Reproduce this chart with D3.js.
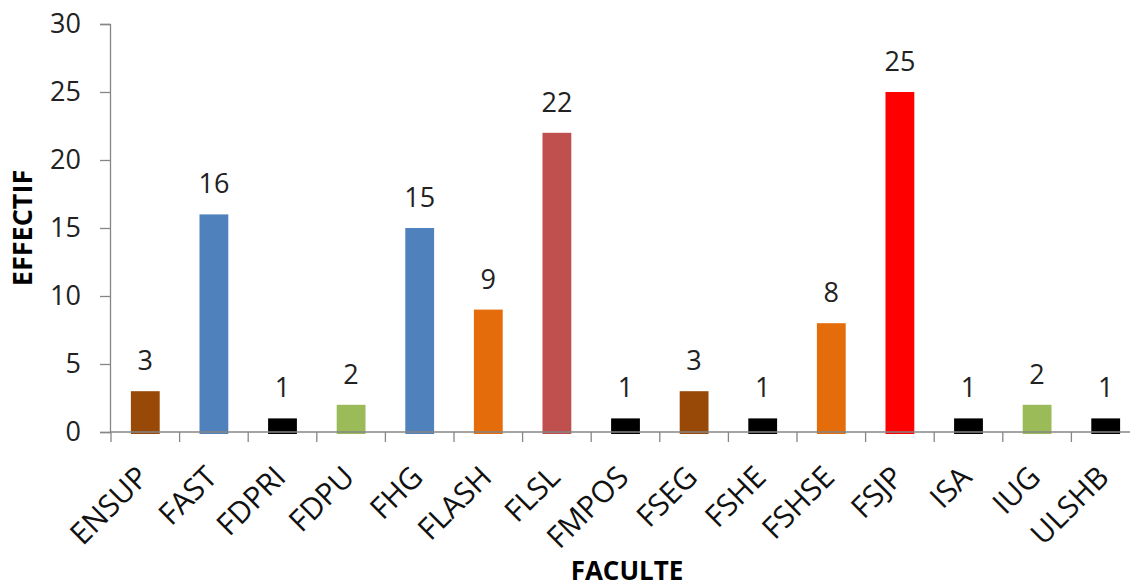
<!DOCTYPE html>
<html><head><meta charset="utf-8">
<script src="https://cdn.jsdelivr.net/npm/d3@7"></script>
<style>body{margin:0;background:#fff}svg{display:block}</style>
</head><body><svg id="c" width="1130" height="588"></svg>
<script>
const categories = ["ENSUP","FAST","FDPRI","FDPU","FHG","FLASH","FLSL","FMPOS","FSEG","FSHE","FSHSE","FSJP","ISA","IUG","ULSHB"];
const values = [3,16,1,2,15,9,22,1,3,1,8,25,1,2,1];
const colors = ["#984807","#4F81BD","#000000","#9BBB59","#4F81BD","#E46C0A","#C0504D","#000000","#984807","#000000","#E46C0A","#FF0000","#000000","#9BBB59","#000000"];
const yTicks = [0,5,10,15,20,25,30];

const svg = d3.select("#c");
const font = "'Open Sans', sans-serif";
const x = d3.scaleBand().domain(categories).range([111, 1140]).paddingInner(0.58).paddingOuter(0.29);
const y = d3.scaleLinear().domain([0,30]).range([432, 24]);
const axisColor = "#868686";

// bars
svg.append("g").selectAll("rect").data(categories).join("rect")
  .attr("x", d => x(d)).attr("width", x.bandwidth())
  .attr("y", (d,i) => y(values[i])).attr("height", (d,i) => y(0) - y(values[i]) + 2)
  .attr("fill", (d,i) => colors[i]);

// y axis
const ya = svg.append("g").attr("transform","translate(110,0)")
  .call(d3.axisLeft(y).tickValues(yTicks).tickSize(10).tickPadding(19));
ya.select(".domain").attr("stroke", axisColor).attr("stroke-width",1.3);
ya.selectAll(".tick line").attr("stroke", axisColor).attr("stroke-width",1.3);
ya.selectAll(".tick text").attr("font-family", font).attr("font-size", 27).attr("fill","#222");

// x axis
const xa = svg.append("g").attr("transform","translate(0,432)");
xa.append("line").attr("x1",110).attr("x2",1130).attr("stroke",axisColor).attr("stroke-width",1.3);
const edges = d3.range(categories.length+1).map(i => 111 + i * x.step());
xa.selectAll("line.t").data(edges).join("line").attr("class","t")
  .attr("x1", d=>d).attr("x2", d=>d).attr("y1",0).attr("y2",10)
  .attr("stroke",axisColor).attr("stroke-width",1.3);
xa.selectAll("text").data(categories).join("text")
  .attr("transform", d => `translate(${x(d)+x.bandwidth()/2+5},${47}) rotate(-45)`)
  .attr("text-anchor","end")
  .attr("font-family", font).attr("font-size", 30).attr("fill","#111")
  .text(d => d);

// value labels
svg.append("g").selectAll("text").data(categories).join("text")
  .attr("x", d => x(d)+x.bandwidth()/2)
  .attr("y", (d,i) => y(values[i]) - 21)
  .attr("text-anchor","middle")
  .attr("font-family", font).attr("font-size", 27).attr("fill","#222")
  .text((d,i) => values[i]);

// axis titles
svg.append("text").attr("transform","translate(32,228) rotate(-90)")
  .attr("text-anchor","middle").attr("font-family",font).attr("font-weight","bold")
  .attr("font-size",27).attr("fill","#000").text("EFFECTIF");
svg.append("text").attr("x",627).attr("y",580)
  .attr("text-anchor","middle").attr("font-family",font).attr("font-weight","bold")
  .attr("font-size",26).attr("fill","#000").text("FACULTE");
</script></body></html>
